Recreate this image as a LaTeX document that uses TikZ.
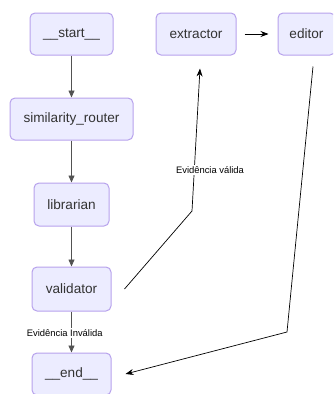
\documentclass[tikz,border=0pt]{standalone}
\usepackage{fontspec}
\setmainfont{Liberation Sans}
\usetikzlibrary{arrows.meta}
\definecolor{nodefill}{HTML}{ECECFF}
\definecolor{nodeline}{HTML}{B7A2EC}
\definecolor{txt}{HTML}{333333}
\tikzset{
  box/.style={draw=nodeline, fill=nodefill, line width=1pt, rounded corners=5pt,
    text=txt, font=\fontsize{13.6}{15}\selectfont, inner sep=0pt, minimum height=42pt},
  vedge/.style={draw=txt!85, line width=0.8pt, -{Triangle[length=7pt,width=6pt]}},
  dedge/.style={draw=black, line width=0.7pt, -{Stealth[length=8pt,width=6pt]}},
  elabel/.style={font=\fontsize{9.4}{11}\selectfont, text=black, fill=white, inner sep=1pt}
}
\begin{document}
\begin{tikzpicture}[x=1pt,y=-1pt]
\useasboundingbox (0,0) rectangle (333,394);
\clip (0,0) rectangle (333,394);
\node[box, minimum width=83pt] (start) at (71.5,34) {\_\_start\_\_};
\node[box, minimum width=80pt] (extractor) at (196,34) {extractor};
\node[box, minimum width=57pt] (editor) at (306.5,34) {editor};
\node[box, minimum width=123pt] (router) at (71.5,119) {similarity\_router};
\node[box, minimum width=75pt, minimum height=43pt] (librarian) at (71.5,204.5) {librarian};
\node[box, minimum width=79pt, minimum height=44pt] (validator) at (71.5,289) {validator};
\node[box, minimum width=79pt] (end) at (71.5,374) {\_\_end\_\_};

\draw[vedge] (start.south) -- (router.north);
\draw[vedge] (router.south) -- (librarian.north);
\draw[vedge] (librarian.south) -- (validator.north);
\draw[vedge] (validator.south) -- (end.north);
\node[elabel] (lbinv) at (64.7,333) {Evidência Inválida};

\draw[dedge] ([xshift=8pt]extractor.east) -- ([xshift=-9pt]editor.west);

\coordinate (vbend) at (192,211);
\draw[dedge] ([xshift=13pt]validator.east) -- (vbend) -- ([xshift=4pt,yshift=-13pt]extractor.south);
\node[elabel] (lbval) at (210,170) {Evidência válida};

\coordinate (ebend) at (287,332);
\draw[dedge] ([xshift=6.5pt,yshift=-11pt]editor.south) -- (ebend) -- ([xshift=14pt]end.east);
\end{tikzpicture}
\end{document}
